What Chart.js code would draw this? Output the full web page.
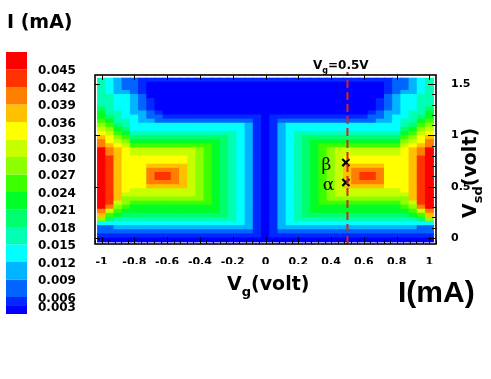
<!DOCTYPE html>
<html>
<head>
<meta charset="utf-8">
<title>I(mA) map</title>
<script src="https://cdn.jsdelivr.net/npm/chart.js@4.4.1/dist/chart.umd.min.js"></script>
<style>
  body { margin: 0; background: #fff; }
  canvas { display: block; }
</style>
</head>
<body>
<canvas id="canvas" width="491" height="379"></canvas>
<script>
// gate voltage columns (volt)
const vgValues = [-1, -0.95, -0.9, -0.85, -0.8, -0.75, -0.7, -0.65, -0.6, -0.55, -0.5,
  -0.45, -0.4, -0.35, -0.3, -0.25, -0.2, -0.15, -0.1, -0.05, 0, 0.05, 0.1, 0.15, 0.2,
  0.25, 0.3, 0.35, 0.4, 0.45, 0.5, 0.55, 0.6, 0.65, 0.7, 0.75, 0.8, 0.85, 0.9, 0.95, 1];

// source-drain voltage rows (volt), bottom to top
const vsdValues = [-0.02, 0.02, 0.06, 0.1, 0.14, 0.18, 0.22, 0.26, 0.3, 0.34, 0.38, 0.42,
  0.46, 0.5, 0.54, 0.58, 0.62, 0.66, 0.7, 0.74, 0.78, 0.82, 0.86, 0.9, 0.94, 0.98, 1.02,
  1.06, 1.1, 1.14, 1.18, 1.22, 1.26, 1.3, 1.34, 1.38, 1.42, 1.46, 1.5, 1.54];

// colour band limits of I (mA), low to high
const bandLabels = ['0.003', '0.006', '0.009', '0.012', '0.015', '0.018', '0.021',
  '0.024', '0.027', '0.030', '0.033', '0.036', '0.039', '0.042', '0.045'];

// band colours, band 0 = below 0.003 mA ... band 15 = above 0.045 mA
const bandColors = ['#0000ff', '#0028ff', '#0064ff', '#00b4ff', '#00ffff', '#00ffb4',
  '#00ff6e', '#00ff28', '#3cff00', '#8cff00', '#c8ff00', '#ffff00', '#ffc000',
  '#ff8000', '#ff3300', '#ff0000'];

// current map: one string per V_sd row (bottom first), one hex digit = band per V_g column
const currentRows = [
  '00000000000000000000000000000000000000000',
  '11111111111111111111011111111111111111111',
  '22222222222222222221012222222222222222222',
  '22333333333333333331013333333333333333322',
  '44444444444444444431013444444444444444444',
  '96555555555555555431013455555555555555569',
  'c876666666666666543101345666666666666678c',
  'da8777777777777654310134567777777777778ad',
  'fd9877777777777654310134567777777777789df',
  'fea98888888888765431013456788888888889aef',
  'fec99999999998765431013456789999999999cef',
  'fecaaaaaaaaa98765431013456789aaaaaaaaacef',
  'fecbaaaaaaaa98765431013456789aaaaaaaabcef',
  'fecbbbccccca98765431013456789acccccbbbcef',
  'fecbbbddddca98765431013456789acddddbbbcef',
  'fecbbbdeedca98765431013456789acdeedbbbcef',
  'fecbbbdeedca98765431013456789acdeedbbbcef',
  'fecbbbddddca98765431013456789acddddbbbcef',
  'fecbbbccccca98765431013456789acccccbbbcef',
  'fecbbbbbbbba98765431013456789abbbbbbbbcef',
  'fecbbbbbbbba98765431013456789abbbbbbbbcef',
  'fdcbaaaaaaaa98765431013456789aaaaaaaabcdf',
  'fdcbaaaaaaaa98765431013456789aaaaaaaabcdf',
  'dcba888888888876543101345678888888888abcd',
  'dba97777777777765431013456777777777779abd',
  'cb9866666666666654310134566666666666689bc',
  'ba8755555555555554310134555555555555578ab',
  'a976444444444444443101344444444444444679a',
  '98654444444444444431013444444444444445689',
  '87554332222222222221012222222222223345578',
  '76544322111111111111011111111111122344567',
  '75543321000000000000000000000000012334557',
  '65443210000000000000000000000000001234456',
  '55443210000000000000000000000000001234455',
  '55443210000000000000000000000000001234455',
  '55443200000000000000000000000000000234455',
  '54332100000000000000000000000000000123345',
  '54322100000000000000000000000000000122345',
  '54322100000000000000000000000000000122345',
  '54322111111111111111111111111111111122345'
];

const vgTicks = [-1, -0.8, -0.6, -0.4, -0.2, 0, 0.2, 0.4, 0.6, 0.8, 1];
const vsdTicks = [0, 0.5, 1, 1.5];

// dashed cut at Vg = 0.5 V
const cutVg = [0.5, 0.5];
const cutVsd = [-0.06, 1.62];

// marked points beta / alpha
const pointVg = [0.49, 0.49];
const pointVsd = [0.735, 0.54];
const pointNames = ['β', 'α'];
const nameVg = [0.372, 0.384];
const nameVsd = [0.71, 0.507];

currentRows.forEach((row, r) => {
  if (row.length !== vgValues.length) throw new Error('row ' + r + ' has ' + row.length + ' cells');
});

const sans = '"DejaVu Sans", sans-serif';
const halfRow = 0.02;

const rowSets = currentRows.map((row, r) => ({
  type: 'bar',
  data: vgValues.map(vg => ({ x: vg, y: [vsdValues[r] - halfRow, vsdValues[r] + halfRow] })),
  backgroundColor: row.split('').map(ch => bandColors[parseInt(ch, 16)]),
  borderWidth: 0,
  grouped: false,
  barPercentage: 1,
  categoryPercentage: 1,
  inflateAmount: 0.4,
  order: 2
}));

function drawParts(ctx, parts, x, y, size) {
  let cx = x;
  parts.forEach(p => {
    const s = p.sub ? Math.round(size * 0.68) : size;
    ctx.font = 'bold ' + s + 'px ' + sans;
    ctx.fillText(p.t, cx, y + (p.sub ? size * 0.3 : 0));
    cx += ctx.measureText(p.t).width;
  });
}

const decor = {
  id: 'decor',
  afterDraw(chart) {
    const { ctx, chartArea: a } = chart;
    const xs = chart.scales.x, ys = chart.scales.y;
    ctx.save();

    // frame
    ctx.strokeStyle = '#000';
    ctx.lineWidth = 1.6;
    ctx.strokeRect(a.left, a.top, a.right - a.left, a.bottom - a.top);

    // inward ticks, minor ones only on bottom and right
    ctx.lineWidth = 1;
    ctx.beginPath();
    for (let k = -26; k <= 26; k++) {
      const px = Math.round(xs.getPixelForValue(k * 0.04)) + 0.5;
      const major = k % 5 === 0;
      ctx.moveTo(px, a.bottom); ctx.lineTo(px, a.bottom - (major ? 7 : 3.5));
      if (major) { ctx.moveTo(px, a.top); ctx.lineTo(px, a.top + 5); }
    }
    for (let k = 0; k <= 15; k++) {
      const py = Math.round(ys.getPixelForValue(k * 0.1)) + 0.5;
      const major = k % 5 === 0;
      ctx.moveTo(a.right, py); ctx.lineTo(a.right - (major ? 8 : 4), py);
      if (major) { ctx.moveTo(a.left, py); ctx.lineTo(a.left + 5, py); }
    }
    ctx.stroke();

    // point names
    ctx.fillStyle = '#000';
    ctx.font = '17px "DejaVu Serif", serif';
    ctx.textAlign = 'center';
    ctx.textBaseline = 'middle';
    pointNames.forEach((n, i) => {
      ctx.fillText(n, xs.getPixelForValue(nameVg[i]), ys.getPixelForValue(nameVsd[i]));
    });

    // colour scale
    const bandEdge = i => (i === 0 ? 314 : i === 1 ? 306 : 297 - (i - 2) * 17.5);
    bandColors.forEach((c, i) => {
      const y0 = bandEdge(i), y1 = bandEdge(i + 1);
      ctx.fillStyle = c;
      ctx.fillRect(6, y1, 21, y0 - y1);
    });
    ctx.fillStyle = '#000';
    ctx.textAlign = 'left';
    ctx.textBaseline = 'middle';
    ctx.font = 'bold 12px ' + sans;
    bandLabels.forEach((t, i) => ctx.fillText(t, 38, bandEdge(i + 1) + 1.5));

    ctx.textBaseline = 'alphabetic';
    ctx.font = 'bold 19px ' + sans;
    ctx.fillText('I (mA)', 7, 28);

    // titles
    drawParts(ctx, [{ t: 'V' }, { t: 'g', sub: true }, { t: '=0.5V' }], 313, 69, 12);
    drawParts(ctx, [{ t: 'V' }, { t: 'g', sub: true }, { t: '(volt)' }], 227, 290, 19);
    ctx.font = 'bold 30px "Liberation Sans", Arial, sans-serif';
    ctx.fillText('I(mA)', 398, 302);

    ctx.save();
    ctx.translate(476, 218);
    ctx.rotate(-Math.PI / 2);
    drawParts(ctx, [{ t: 'V' }, { t: 'sd', sub: true }, { t: '(volt)' }], 0, 0, 19);
    ctx.restore();

    ctx.restore();
  }
};

Chart.defaults.font.family = sans;
Chart.defaults.font.size = 11;
Chart.defaults.font.weight = 'bold';
Chart.defaults.color = '#000';

const ctx = document.getElementById('canvas').getContext('2d');
const chart = new Chart(ctx, {
  type: 'bar',
  data: {
    datasets: [
      {
        type: 'line',
        data: cutVg.map((v, i) => ({ x: v, y: cutVsd[i] })),
        borderColor: '#e02020',
        borderWidth: 2,
        borderDash: [8, 4],
        pointRadius: 0,
        clip: false,
        order: 0
      },
      {
        type: 'scatter',
        data: pointVg.map((v, i) => ({ x: v, y: pointVsd[i] })),
        pointStyle: 'crossRot',
        pointRadius: 5,
        borderWidth: 2.2,
        borderColor: '#000',
        backgroundColor: '#000',
        order: 0
      },
      ...rowSets
    ]
  },
  options: {
    responsive: false,
    animation: false,
    events: [],
    layout: { padding: { left: 95, right: 0, top: 75, bottom: 115 } },
    plugins: { legend: { display: false }, tooltip: { enabled: false } },
    scales: {
      x: {
        type: 'linear',
        min: -1.04,
        max: 1.04,
        offset: false,
        grid: { display: false },
        border: { display: false },
        afterBuildTicks: s => { s.ticks = vgTicks.map(v => ({ value: v })); },
        afterFit: s => { s.height = 20; },
        ticks: {
          padding: 4,
          autoSkip: false,
          maxRotation: 0,
          callback: v => String(Math.round(v * 10) / 10)
        }
      },
      y: {
        type: 'linear',
        position: 'right',
        min: -0.06,
        max: 1.59,
        grid: { display: false },
        border: { display: false },
        afterBuildTicks: s => { s.ticks = vsdTicks.map(v => ({ value: v })); },
        afterFit: s => { s.width = 55; },
        ticks: {
          padding: 7,
          callback: v => String(v)
        }
      }
    }
  },
  plugins: [decor]
});
</script>
</body>
</html>
